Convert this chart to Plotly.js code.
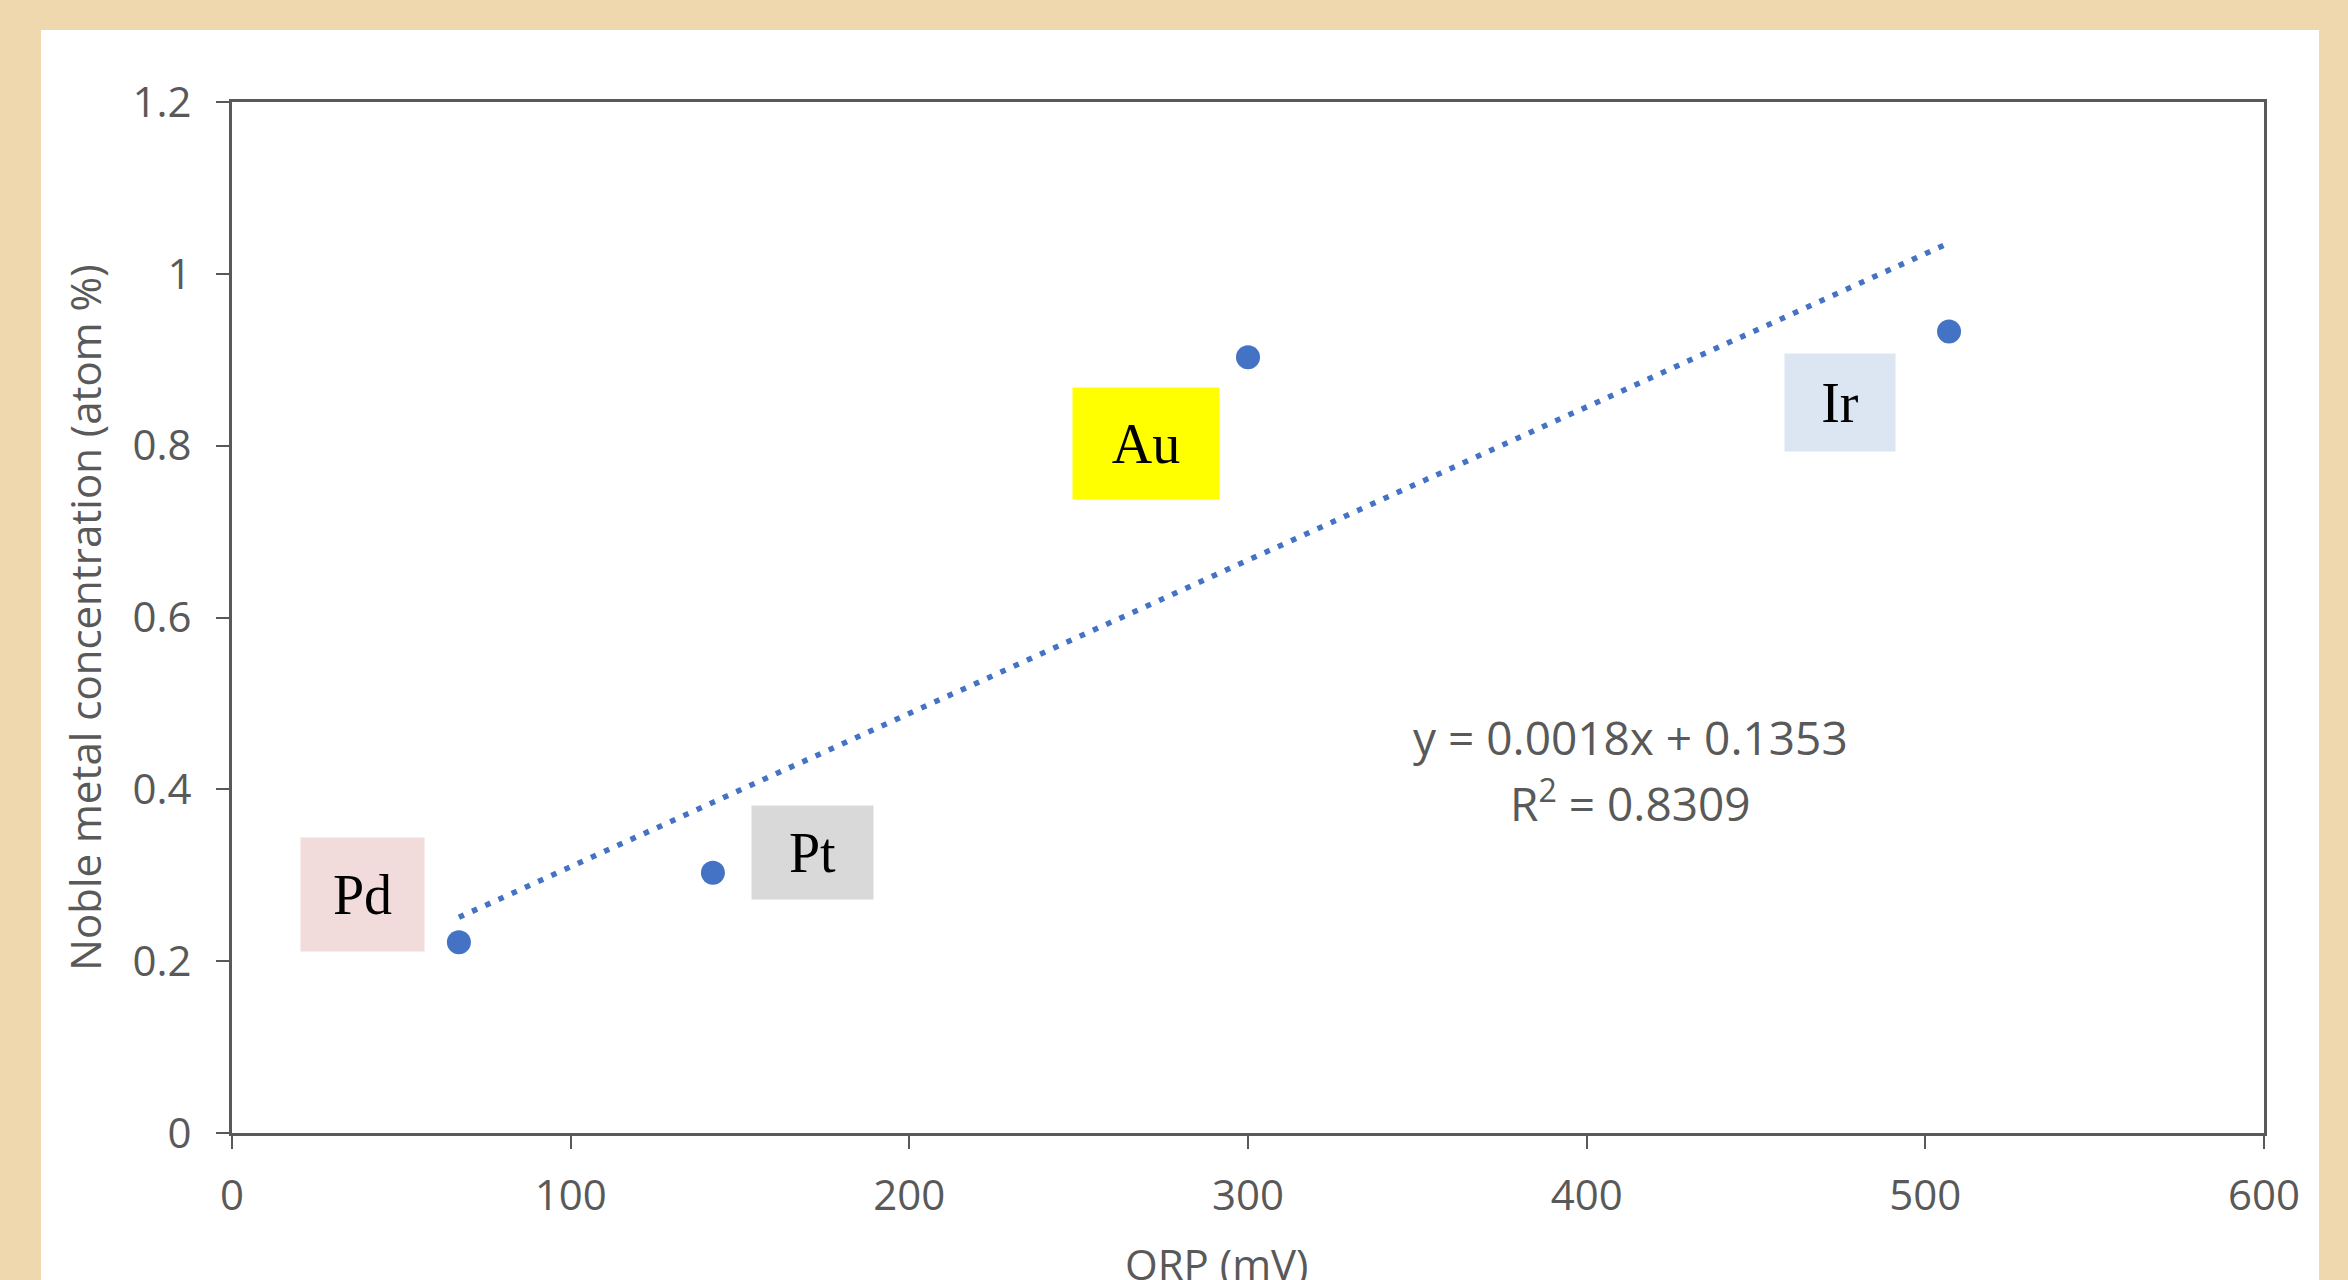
<!DOCTYPE html>
<html>
<head>
<meta charset="utf-8">
<script src="https://cdn.plot.ly/plotly-3.0.1.min.js"></script>
<style>
  html, body { margin: 0; padding: 0; background: #EFD7AE; }
  #chart { width: 2348px; height: 1280px; }
</style>
</head>
<body>
<div id="chart"></div>
<script>
// ---- data ----
const metals = ["Pd", "Pt", "Au", "Ir"];
const orp_mV = [67, 142, 300, 507];
const concentration = [0.222, 0.303, 0.903, 0.933];
const trendX = [67, 507];
const trendY = [0.251, 1.036];
const equationLines = ["y = 0.0018x + 0.1353", "R<sup>2</sup> = 0.8309"];
const xTitle = "ORP (mV)";
const yTitle = "Noble metal concentration (atom %)";
const xTicks = [0, 100, 200, 300, 400, 500, 600];
const yTicks = [0, 0.2, 0.4, 0.6, 0.8, 1, 1.2];

// ---- styling ----
const labelFill = { Pd: "#F2DCDB", Pt: "#D9D9D9", Au: "#FFFF00", Ir: "#DCE6F2" };
const labelBox = {
  Pd: { dx: -96, dy: 48, w: 123, h: 113 },
  Pt: { dx: 100, dy: 20, w: 121, h: 93 },
  Au: { dx: -102, dy: -86, w: 146, h: 111 },
  Ir: { dx: -109, dy: -71, w: 110, h: 97 }
};
const grey = "#595959";
const blue = "#4472C4";

const traces = [
  {
    type: "scatter",
    mode: "lines",
    x: trendX,
    y: trendY,
    line: { color: blue, width: 5.5, dash: "5.5px,9px" },
    hoverinfo: "skip",
    showlegend: false
  },
  {
    type: "scatter",
    mode: "markers",
    x: orp_mV,
    y: concentration,
    marker: { color: blue, size: 24 },
    showlegend: false
  }
];

const annotations = metals.map((m, i) => ({
  x: orp_mV[i], y: concentration[i], xref: "x", yref: "y",
  xshift: labelBox[m].dx, yshift: labelBox[m].dy,
  text: m, showarrow: false,
  width: labelBox[m].w, height: labelBox[m].h,
  bgcolor: labelFill[m], borderpad: 0,
  align: "center", valign: "middle",
  font: { family: "Liberation Serif", size: 56, color: "#000000" }
}));

annotations.push({
  x: 413, y: 0.461, xref: "x", yref: "y", showarrow: false,
  text: equationLines[0],
  font: { family: "Open Sans", size: 46, color: grey }
});
annotations.push({
  x: 413, y: 0.386, xref: "x", yref: "y", showarrow: false,
  text: equationLines[1],
  font: { family: "Open Sans", size: 46, color: grey }
});
// x-axis title (placed as annotation so it can sit partly below the margin like the reference)
annotations.push({
  x: 0.4847, y: 0, xref: "paper", yref: "paper", showarrow: false,
  xanchor: "center", yanchor: "middle", yshift: -130,
  text: xTitle,
  font: { family: "Open Sans", size: 42, color: grey }
});

const axisCommon = {
  showline: true, linecolor: grey, linewidth: 3, mirror: true,
  ticks: "outside", ticklen: 13, tickwidth: 2, tickcolor: grey,
  showgrid: false, zeroline: false,
  tickfont: { family: "Open Sans", size: 42, color: grey }
};

const layout = {
  width: 2348, height: 1280,
  paper_bgcolor: "#EFD7AE",
  plot_bgcolor: "#FFFFFF",
  margin: { l: 232, r: 84, t: 102, b: 147 },
  font: { family: "Open Sans", size: 42, color: grey },
  showlegend: false,
  xaxis: Object.assign({}, axisCommon, {
    range: [0, 600], tickvals: xTicks, ticklabelstandoff: 11
  }),
  yaxis: Object.assign({}, axisCommon, {
    range: [0, 1.2], tickvals: yTicks, ticklabelstandoff: 16,
    title: { text: yTitle, standoff: 18, font: { family: "Open Sans", size: 42, color: grey } }
  }),
  shapes: [{
    type: "rect", xref: "paper", yref: "paper", layer: "below",
    x0: -0.094, x1: 1.0271, y0: -0.2, y1: 1.0698,
    fillcolor: "#FFFFFF", line: { width: 0 }
  }],
  annotations: annotations
};

Plotly.newPlot("chart", traces, layout, { displayModeBar: false, staticPlot: true });
</script>
</body>
</html>
